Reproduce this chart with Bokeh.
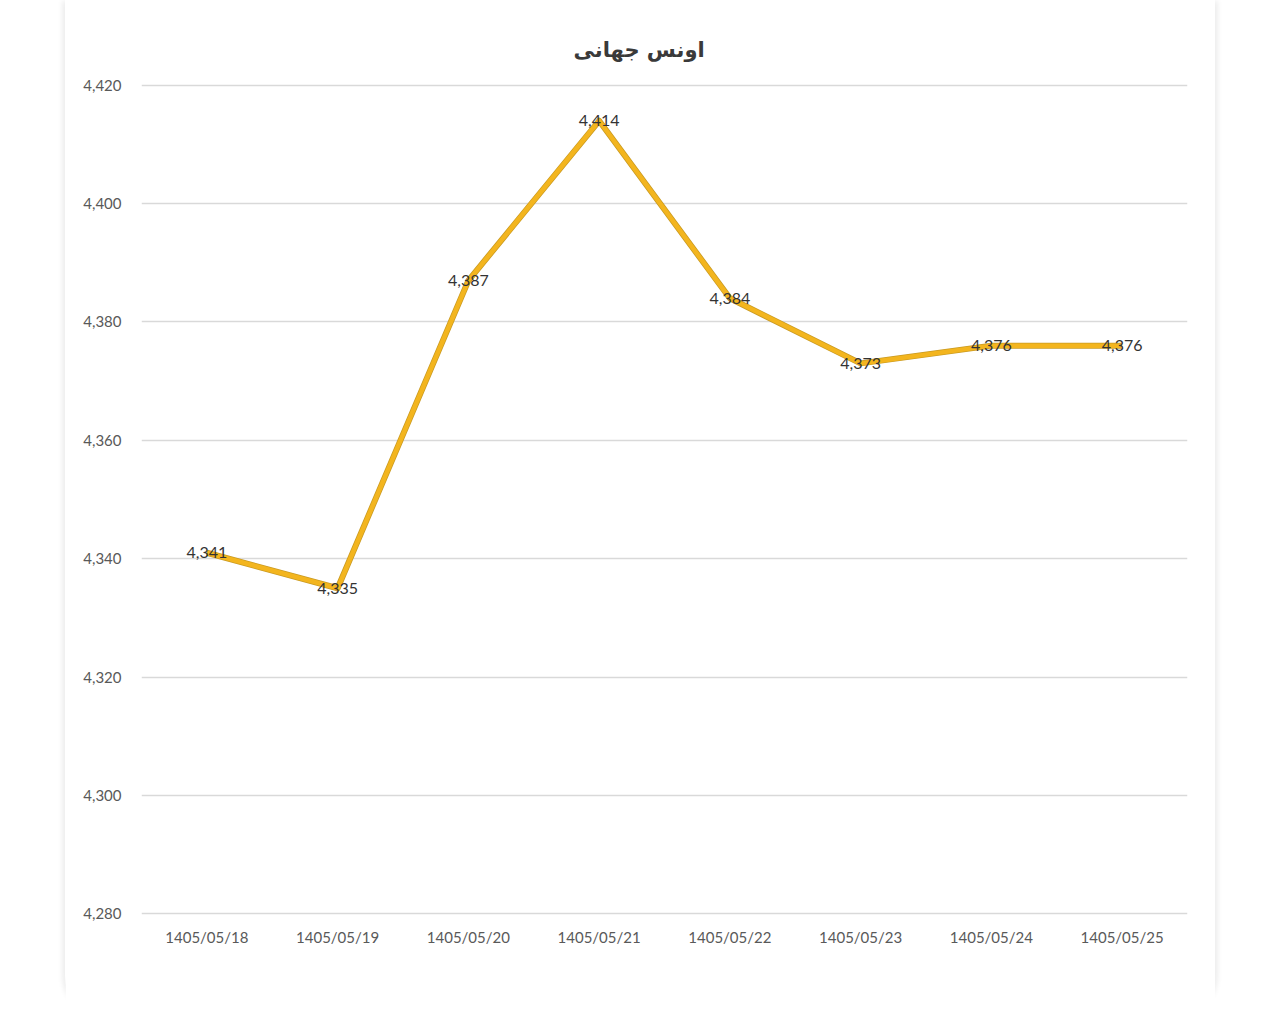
from bokeh.plotting import figure
from bokeh.models import ColumnDataSource, NumeralTickFormatter, FixedTicker, Range1d, LabelSet
from bokeh.core.properties import value
from bokeh.embed import file_html
from bokeh.resources import INLINE

title_text = "اونس جهانی"
dates = ["1405/05/18", "1405/05/19", "1405/05/20", "1405/05/21",
         "1405/05/22", "1405/05/23", "1405/05/24", "1405/05/25"]
prices = [4341, 4335, 4387, 4414, 4384, 4373, 4376, 4376]
y_ticks = [4280, 4300, 4320, 4340, 4360, 4380, 4400, 4420]

labels = [f"{v:,}" for v in prices]
src = ColumnDataSource(dict(x=dates, y=prices, lab=labels))

p = figure(x_range=dates, y_range=Range1d(4279.7, 4420.3),
           width=1150, height=1016, output_backend="svg", toolbar_location=None,
           min_border_left=76, min_border_right=28, min_border_top=83, min_border_bottom=101)
p.margin = (0, 0, 0, 65)
p.styles = {"box-shadow": "-4px 0 5px -1px rgba(0,0,0,0.07), 4px 0 5px -1px rgba(0,0,0,0.07)",
            "border-radius": "0 0 40px 40px"}

p.title.text = title_text
p.title.align = "left"
p.title.offset = 432
p.title.text_font = "DejaVu Sans"
p.title.text_font_size = "21px"
p.title.text_font_style = "bold"
p.title.text_color = "#3a3a3a"
p.title.standoff = 43

p.outline_line_color = None
p.background_fill_color = "white"
p.border_fill_color = "white"

p.xgrid.grid_line_color = None
p.ygrid.grid_line_color = "#d9d9d9"
p.ygrid.grid_line_width = 1.5

p.yaxis.ticker = FixedTicker(ticks=y_ticks)
p.yaxis.formatter = NumeralTickFormatter(format="0,0")
for ax in (p.xaxis[0], p.yaxis[0]):
    ax.axis_line_color = None
    ax.major_tick_line_color = None
    ax.minor_tick_line_color = None
    ax.major_tick_out = 0
    ax.major_tick_in = 0
    ax.major_label_text_font = "Lato"
    ax.major_label_text_font_size = "15px"
    ax.major_label_text_color = "#595959"
p.yaxis.major_label_standoff = 20
p.xaxis.major_label_standoff = 12

p.line("x", "y", source=src, line_color="#c99a22", line_width=6, line_join="round")
p.line("x", "y", source=src, line_color="#f3b51e", line_width=4.5, line_join="round")

lbls = LabelSet(x="x", y="y", text="lab", source=src, text_align="center",
                text_baseline="middle", text_font=value("Lato"), text_font_size=value("16px"),
                text_color="#333333")
p.add_layout(lbls)

open("out.html", "w").write(file_html(p, INLINE))
